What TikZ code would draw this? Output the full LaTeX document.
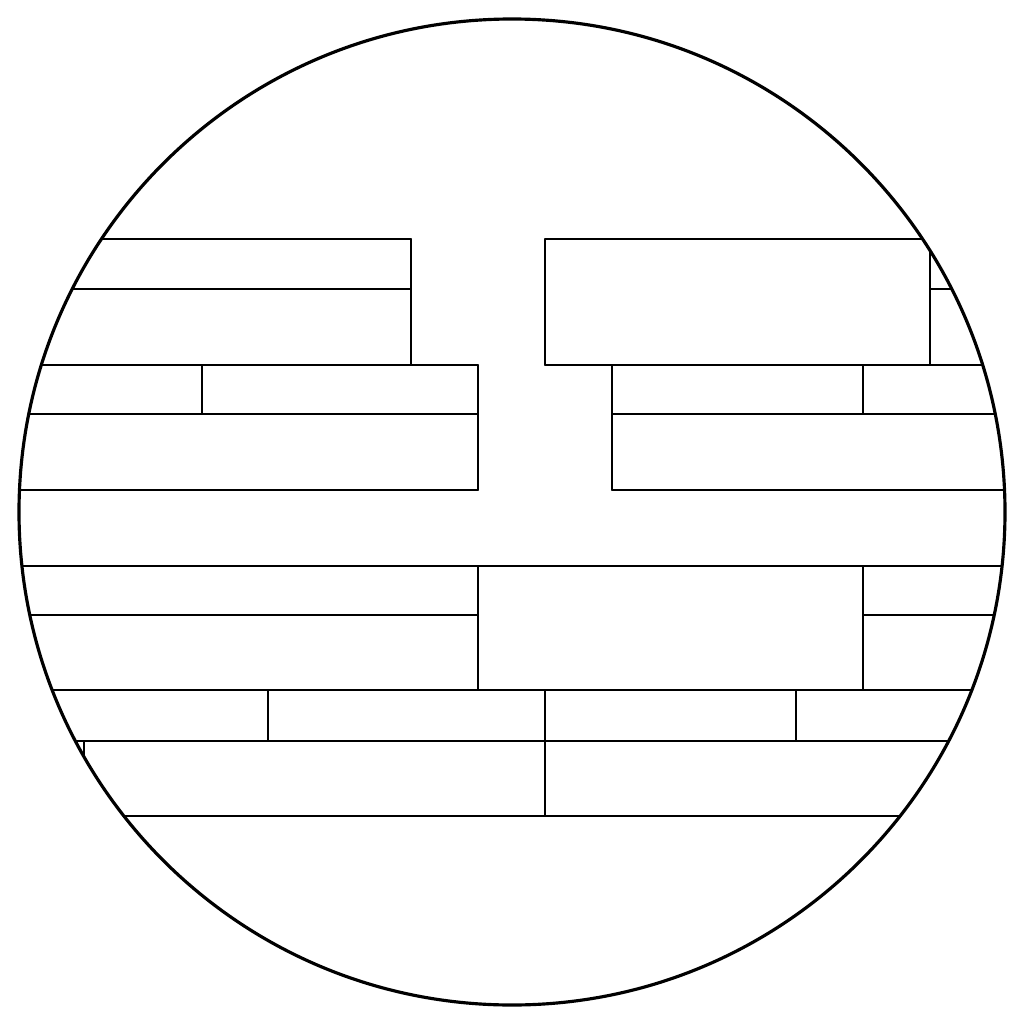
\documentclass[tikz,border=0pt]{standalone}
\begin{document}
\begin{tikzpicture}[x=0.01cm, y=-0.01cm, line join=round, line cap=round,
		joint/.style={line width=0.55pt}, rim/.style={line width=0.9pt}]
	\useasboundingbox (0,0) rectangle (1024,1024);
	\begin{scope}
		\clip (512,512) circle (493);
		% horizontal joints
		\foreach \y in {566,690,741,816} \draw[joint] (0,\y)--(1024,\y);
		\foreach \y in {239,289} \draw[joint] (0,\y)--(411,\y);
		\foreach \y in {365,414,490,615} \draw[joint] (0,\y)--(478,\y);
		\draw[joint] (545,239)--(1024,239);
		\draw[joint] (930,289)--(1024,289);
		\draw[joint] (545,365)--(1024,365);
		\foreach \y in {414,490} \draw[joint] (612,\y)--(1024,\y);
		\draw[joint] (863,615)--(1024,615);
		% vertical joints
		\foreach \x in {411,545,930} \draw[joint] (\x,239)--(\x,365);
		\foreach \x in {478,612} \draw[joint] (\x,365)--(\x,490);
		\foreach \x in {202,863} \draw[joint] (\x,365)--(\x,414);
		\foreach \x in {478,863} \draw[joint] (\x,566)--(\x,690);
		\foreach \x in {268,545,796} \draw[joint] (\x,690)--(\x,741);
		\foreach \x in {84,545} \draw[joint] (\x,741)--(\x,816);
	\end{scope}
	\draw[rim] (512,512) circle (493);
\end{tikzpicture}
\end{document}
